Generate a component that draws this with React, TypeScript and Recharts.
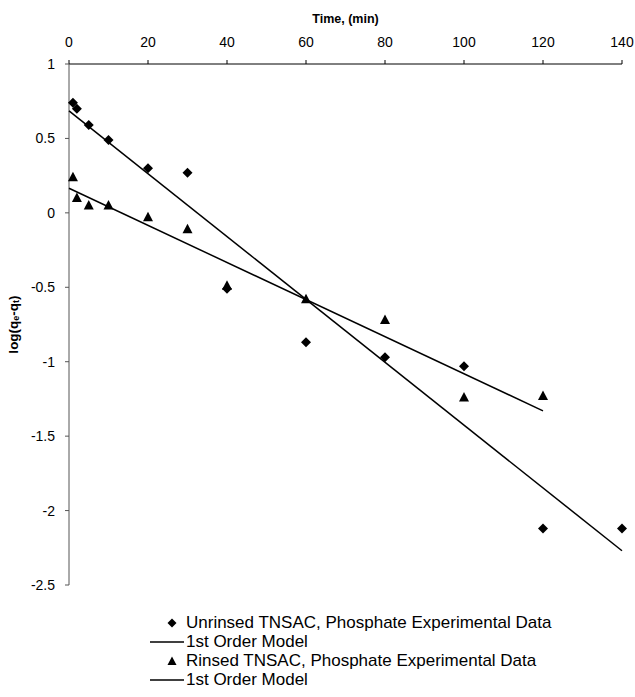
import React from 'react';
import { ScatterChart, Scatter, XAxis, YAxis } from 'recharts';

const FONT = '"Liberation Sans", Arial, Helvetica, sans-serif';

const timeTicks = [0, 20, 40, 60, 80, 100, 120, 140];
const logTicks = [-2.5, -2, -1.5, -1, -0.5, 0, 0.5, 1];

const unrinsedTime = [1, 2, 5, 10, 20, 30, 40, 60, 80, 100, 120, 140];
const unrinsedLog = [0.74, 0.7, 0.59, 0.49, 0.3, 0.27, -0.51, -0.87, -0.97, -1.03, -2.12, -2.12];

const rinsedTime = [1, 2, 5, 10, 20, 30, 40, 60, 80, 100, 120];
const rinsedLog = [0.24, 0.1, 0.05, 0.05, -0.03, -0.11, -0.49, -0.58, -0.72, -1.24, -1.23];

const unrinsedModelTime = [0, 140];
const unrinsedModelLog = [0.685, -2.27];
const rinsedModelTime = [0, 120];
const rinsedModelLog = [0.165, -1.33];

const legendLabels = [
  'Unrinsed TNSAC, Phosphate Experimental Data',
  '1st Order Model',
  'Rinsed TNSAC, Phosphate Experimental Data',
  '1st Order Model',
];
const legendKinds = ['diamond', 'line', 'triangle', 'line'];

const toRows = (xs: number[], ys: number[]) => xs.map((t, i) => ({ t, v: ys[i] }));

const unrinsedData = toRows(unrinsedTime, unrinsedLog);
const rinsedData = toRows(rinsedTime, rinsedLog);
const unrinsedModel = toRows(unrinsedModelTime, unrinsedModelLog);
const rinsedModel = toRows(rinsedModelTime, rinsedModelLog);

const Diamond = (p: any) => {
  const { cx, cy } = p;
  const r = 5;
  return <path d={`M${cx},${cy - r}L${cx + r},${cy}L${cx},${cy + r}L${cx - r},${cy}Z`} fill="#000" />;
};

const Triangle = (p: any) => {
  const { cx, cy } = p;
  return <path d={`M${cx},${cy - 5.5}L${cx + 5},${cy + 4}L${cx - 5},${cy + 4}Z`} fill="#000" />;
};

const NoShape = () => <g />;

const YLabel = (props: any) => {
  const vb = props.viewBox || { x: 0, y: 64, width: 69, height: 521 };
  const x = vb.x + 13;
  const y = vb.y + vb.height / 2;
  return (
    <text
      x={x}
      y={y}
      transform={`rotate(-90, ${x}, ${y})`}
      textAnchor="middle"
      dominantBaseline="central"
      fontFamily={FONT}
      fontWeight="bold"
      fontSize={13.5}
      fill="#000"
    >
      <tspan>log(q</tspan>
      <tspan fontSize={9} dy={3}>e</tspan>
      <tspan dy={-3}>-q</tspan>
      <tspan fontSize={9} dy={3}>t</tspan>
      <tspan dy={-3}>)</tspan>
    </text>
  );
};

const LegendMarker = ({ kind }: { kind: string }) => {
  if (kind === 'diamond') {
    return (
      <svg width={36} height={12} style={{ display: 'block' }}>
        <path d="M22,1.5L26.5,6L22,10.5L17.5,6Z" fill="#000" />
      </svg>
    );
  }
  if (kind === 'triangle') {
    return (
      <svg width={36} height={12} style={{ display: 'block' }}>
        <path d="M22,1.5L26.5,10L17.5,10Z" fill="#000" />
      </svg>
    );
  }
  return (
    <svg width={36} height={12} style={{ display: 'block' }}>
      <line x1={0} y1={6} x2={34} y2={6} stroke="#000" strokeWidth={1.5} />
    </svg>
  );
};

export default function App() {
  return (
    <div style={{ position: 'absolute', left: 0, top: 0, width: 635, height: 697, background: '#fff', fontFamily: FONT }}>
      <ScatterChart width={635} height={697} margin={{ top: 28, right: 13, bottom: 112, left: 0 }}>
        <XAxis
          xAxisId={0}
          type="number"
          dataKey="t"
          orientation="top"
          domain={[0, 140]}
          ticks={timeTicks}
          height={36}
          tickSize={4}
          tickMargin={13}
          axisLine={{ stroke: '#000', strokeWidth: 1 }}
          tickLine={{ stroke: '#000' }}
          tick={{ fill: '#000', fontSize: 14, fontFamily: FONT }}
          label={{ value: 'Time, (min)', position: 'top', offset: 5, fill: '#000', fontSize: 12.5, fontWeight: 'bold', fontFamily: FONT }}
        />
        <YAxis
          yAxisId={0}
          type="number"
          dataKey="v"
          domain={[-2.5, 1]}
          ticks={logTicks}
          width={69}
          tickSize={4}
          tickMargin={10}
          axisLine={{ stroke: '#555', strokeWidth: 1 }}
          tickLine={{ stroke: '#555' }}
          tick={{ fill: '#000', fontSize: 14, fontFamily: FONT }}
          label={(p: any) => <YLabel {...p} />}
        />
        <Scatter data={unrinsedModel} line={{ stroke: '#000', strokeWidth: 1.5 }} shape={NoShape} isAnimationActive={false} legendType="none" />
        <Scatter data={rinsedModel} line={{ stroke: '#000', strokeWidth: 1.5 }} shape={NoShape} isAnimationActive={false} legendType="none" />
        <Scatter data={unrinsedData} shape={Diamond} isAnimationActive={false} />
        <Scatter data={rinsedData} shape={Triangle} isAnimationActive={false} />
      </ScatterChart>
      <div style={{ position: 'absolute', left: 150, top: 613, fontSize: 17, color: '#000', lineHeight: '19px' }}>
        {legendLabels.map((lab, i) => (
          <div key={i} style={{ display: 'flex', alignItems: 'center', height: 19, whiteSpace: 'nowrap' }}>
            <LegendMarker kind={legendKinds[i]} />
            <span>{lab}</span>
          </div>
        ))}
      </div>
    </div>
  );
}
